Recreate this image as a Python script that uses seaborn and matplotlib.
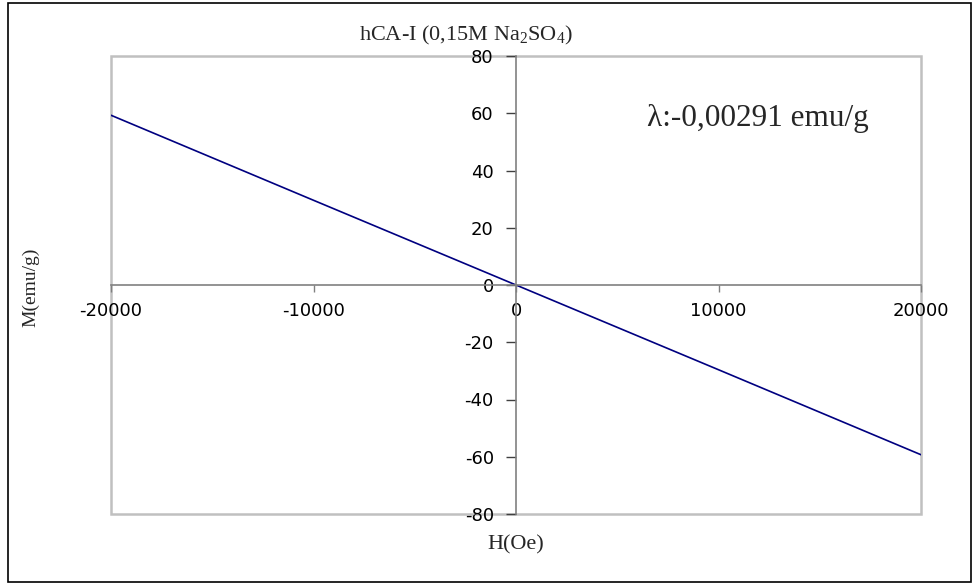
import matplotlib
matplotlib.use("Agg")
import matplotlib.pyplot as plt
from matplotlib.patches import Rectangle
import seaborn as sns
import pandas as pd

# ---- data ----
H_values = [-20000, -10000, 0, 10000, 20000]
M_values = [59.3, 29.6, 0.0, -29.6, -59.3]
x_ticks = [-20000, -10000, 0, 10000, 20000]
y_ticks = [-80, -60, -40, -20, 0, 20, 40, 60, 80]
title_text = "hCA-I (0,15M Na$_2$SO$_4$)"
annot_text = "λ:-0,00291 emu/g"
x_label = "H(Oe)"
y_label = "M(emu/g)"

sns.set_style("white")
plt.rcParams['font.family'] = ['DejaVu Sans']
plt.rcParams['mathtext.fontset'] = 'custom'
plt.rcParams['mathtext.rm'] = 'Liberation Serif'
plt.rcParams['mathtext.it'] = 'Liberation Serif:italic'
plt.rcParams['mathtext.bf'] = 'Liberation Serif:bold'

W, Hh = 973, 585
fig = plt.figure(figsize=(W / 100, Hh / 100), dpi=100)
fig.patch.set_facecolor("white")

# outer chart border
fig.patches.append(Rectangle((8 / W, 1 - 582 / Hh), (971 - 8) / W, (582 - 3) / Hh,
                             transform=fig.transFigure, fill=False,
                             edgecolor="#000000", linewidth=1.2))

ax = fig.add_axes([111 / W, 1 - 514 / Hh, (921 - 111) / W, (514 - 56) / Hh])

df = pd.DataFrame({"H": H_values, "M": M_values})
sns.lineplot(data=df, x="H", y="M", color="#000080", linewidth=1.2, ax=ax)

ax.set_xlim(-20000, 20000)
ax.set_ylim(-80, 80)
ax.set_xticks(x_ticks)
ax.set_yticks(y_ticks)
ax.set_xticklabels([str(v) for v in x_ticks])
ax.set_yticklabels([str(v) for v in y_ticks])

# axes through zero
for s in ["left", "bottom"]:
    ax.spines[s].set_position(("data", 0))
    ax.spines[s].set_color("#808080")
    ax.spines[s].set_linewidth(1.2)
for s in ["top", "right"]:
    ax.spines[s].set_visible(False)

ax.add_patch(Rectangle((0, 0), 1, 1, transform=ax.transAxes, fill=False,
                       edgecolor="#c0c0c0", linewidth=1.8, clip_on=False, zorder=0))

ax.tick_params(axis="x", direction="out", length=5, width=1, color="#808080",
               pad=7, labelsize=13, labelcolor="black")
ax.tick_params(axis="y", direction="out", length=7, width=1, color="#404040",
               pad=9, labelsize=13, labelcolor="black")
ax.tick_params(bottom=True, left=True)

ax.set_xlabel("")
ax.set_ylabel("")

fig.text(466 / W, 1 - 35 / Hh, title_text, family="Liberation Serif",
         fontsize=16, ha="center", va="center")
fig.text(647 / W, 1 - 126 / Hh, annot_text, family="Liberation Serif",
         fontsize=22.5, ha="left", va="baseline")
fig.text(516 / W, 1 - 545 / Hh, x_label, family="Liberation Serif",
         fontsize=16, ha="center", va="center")
fig.text(31 / W, 1 - 287 / Hh, y_label, family="Liberation Serif",
         fontsize=14, ha="center", va="center", rotation=90)

fig.savefig("out.png", dpi=100, facecolor="white")
